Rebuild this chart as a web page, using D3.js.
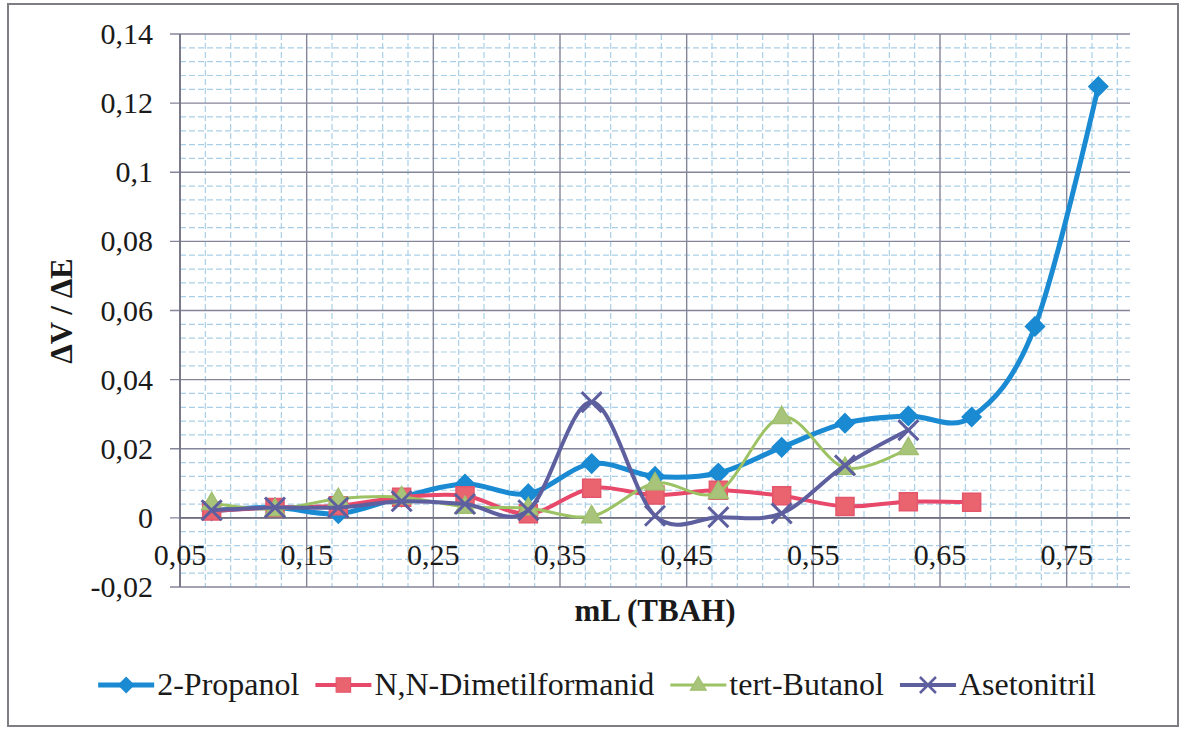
<!DOCTYPE html>
<html>
<head>
<meta charset="utf-8">
<script src="https://cdn.jsdelivr.net/npm/d3@7"></script>
</head>
<body style="margin:0">
<svg id="chart" width="1182" height="729"></svg>
<script>
// Titration volumes (mL TBAH) at which dV/dE was evaluated
const volumes = [0.075, 0.125, 0.175, 0.225, 0.275, 0.325, 0.375, 0.425, 0.475, 0.525, 0.575, 0.625, 0.675, 0.725, 0.775];

// dV/dE per solvent
const propanol    = [0.0020, 0.0030, 0.0012, 0.0060, 0.0098, 0.0070, 0.0157, 0.0120, 0.0130, 0.0204, 0.0274, 0.0295, 0.0292, 0.0554, 0.1248];
const dimetilform = [0.0020, 0.0030, 0.0035, 0.0060, 0.0064, 0.0012, 0.0086, 0.0066, 0.0080, 0.0064, 0.0033, 0.0047, 0.0045];
const butanol     = [0.0043, 0.0025, 0.0055, 0.0060, 0.0032, 0.0028, 0.0005, 0.0100, 0.0075, 0.0292, 0.0145, 0.0202];
const asetonitril = [0.0022, 0.0030, 0.0030, 0.0048, 0.0040, 0.0022, 0.0335, 0.0006, 0.0002, 0.0013, 0.0152, 0.0254];

const seriesNames = ["2-Propanol", "N,N-Dimetilformanid", "tert-Butanol", "Asetonitril"];

// Axis tick values and their printed labels (decimal comma)
const xTickValues = [0.05, 0.15, 0.25, 0.35, 0.45, 0.55, 0.65, 0.75];
const xTickLabels = ["0,05", "0,15", "0,25", "0,35", "0,45", "0,55", "0,65", "0,75"];
const yTickValues = [-0.02, 0, 0.02, 0.04, 0.06, 0.08, 0.1, 0.12, 0.14];
const yTickLabels = ["-0,02", "0", "0,02", "0,04", "0,06", "0,08", "0,1", "0,12", "0,14"];

const xTitle = "mL (TBAH)";
const yTitle = "\u0394V / \u0394E";

const INK = "#1a1a1a";

const svg = d3.select("#chart").style("display", "block");

// text helper: every label uses a Times-style serif face
function label(parent) {
  return parent.append("text")
    .style("font-family", '"Times"')
    .attr("fill", INK);
}

// outer chart frame
svg.append("rect")
  .attr("x", 8).attr("y", 4).attr("width", 1170).attr("height", 722)
  .attr("fill", "#ffffff").attr("stroke", "#7d7d84").attr("stroke-width", 2);

const plot = { left: 180, right: 1130, top: 34, bottom: 587 };

const x = d3.scaleLinear().domain([0.05, 0.80]).range([plot.left, plot.right]);
const y = d3.scaleLinear().domain([-0.02, 0.14]).range([plot.bottom, plot.top]);

// minor grid: 5 subdivisions per major interval
const xMinor = d3.range(0, 38).map(i => 0.05 + i * 0.02).filter(v => v <= 0.80 + 1e-9);
const yMinor = d3.range(0, 41).map(i => -0.02 + i * 0.004);

const grid = svg.append("g");
grid.selectAll(".vminor").data(xMinor.filter((v, i) => i % 5 !== 0)).join("line")
  .attr("x1", d => x(d)).attr("x2", d => x(d))
  .attr("y1", plot.top).attr("y2", plot.bottom)
  .attr("stroke", "#a9cfe8").attr("stroke-width", 1.2).attr("stroke-dasharray", "6,3");
grid.selectAll(".hminor").data(yMinor.filter((v, i) => i % 5 !== 0)).join("line")
  .attr("x1", plot.left).attr("x2", plot.right)
  .attr("y1", d => y(d)).attr("y2", d => y(d))
  .attr("stroke", "#a9cfe8").attr("stroke-width", 1.2).attr("stroke-dasharray", "6,3");

// major grid
grid.selectAll(".vmajor").data(xTickValues).join("line")
  .attr("x1", d => x(d)).attr("x2", d => x(d))
  .attr("y1", plot.top).attr("y2", plot.bottom)
  .attr("stroke", "#85859a").attr("stroke-width", 1.4);
grid.selectAll(".hmajor").data(yTickValues).join("line")
  .attr("x1", plot.left - 10).attr("x2", plot.right)
  .attr("y1", d => y(d)).attr("y2", d => y(d))
  .attr("stroke", "#85859a").attr("stroke-width", 1.4);

// axis lines
svg.append("line").attr("x1", plot.left).attr("x2", plot.left)
  .attr("y1", plot.top).attr("y2", plot.bottom)
  .attr("stroke", "#6f6f80").attr("stroke-width", 1.6);
svg.append("line").attr("x1", plot.left).attr("x2", plot.right)
  .attr("y1", y(0)).attr("y2", y(0))
  .attr("stroke", "#6f6f80").attr("stroke-width", 1.6);

// y tick labels
const yLabels = svg.append("g");
yTickValues.forEach((v, i) => {
  label(yLabels).attr("x", 153).attr("y", y(v) + 10)
    .attr("text-anchor", "end").attr("font-size", 30)
    .text(yTickLabels[i]);
});

// x tick labels, placed just below the zero line
const xLabels = svg.append("g");
xTickValues.forEach((v, i) => {
  label(xLabels).attr("x", x(v)).attr("y", 565)
    .attr("text-anchor", "middle").attr("font-size", 30)
    .text(xTickLabels[i]);
});

// axis titles
label(svg).attr("x", 655).attr("y", 621)
  .attr("text-anchor", "middle").attr("font-size", 31).attr("font-weight", "bold")
  .text(xTitle);
label(svg).attr("transform", "translate(72,311) rotate(-90)")
  .attr("text-anchor", "middle").attr("font-size", 31).attr("font-weight", "bold")
  .text(yTitle);

// marker shapes
function markerPath(kind, r) {
  if (kind === "diamond") return `M0,${-r}L${r},0L0,${r}L${-r},0Z`;
  if (kind === "square") return `M${-r},${-r}H${r}V${r}H${-r}Z`;
  if (kind === "triangle") { const h = r * 1.9; return `M0,${-h * 0.62}L${r * 1.1},${h * 0.38}L${-r * 1.1},${h * 0.38}Z`; }
  return `M${-r},${-r}L${r},${r}M${r},${-r}L${-r},${r}`;
}

const series = [
  { name: seriesNames[0], values: propanol,    line: "#1a8ad2", fill: "#1a8ad2", stroke: "#1a8ad2", width: 5, marker: "diamond",  r: 9.5 },
  { name: seriesNames[1], values: dimetilform, line: "#e8486a", fill: "#ea6470", stroke: "#e4566a", width: 4, marker: "square",   r: 9 },
  { name: seriesNames[2], values: butanol,     line: "#9cc264", fill: "#a8c47a", stroke: "#a0c070", width: 3, marker: "triangle", r: 9 },
  { name: seriesNames[3], values: asetonitril, line: "#5d5f9e", fill: "none",    stroke: "#5d5f9e", width: 4, marker: "cross",    r: 10 }
];

const lineGen = d3.line()
  .x(d => x(d[0])).y(d => y(d[1]))
  .curve(d3.curveCatmullRom.alpha(0));

series.forEach(s => {
  const pts = s.values.map((v, i) => [volumes[i], v]);
  const g = svg.append("g");
  g.append("path").datum(pts)
    .attr("d", lineGen)
    .attr("fill", "none").attr("stroke", s.line).attr("stroke-width", s.width)
    .attr("stroke-linejoin", "round").attr("stroke-linecap", "round");
  g.selectAll("path.m").data(pts).join("path")
    .attr("class", "m")
    .attr("transform", d => `translate(${x(d[0])},${y(d[1])})`)
    .attr("d", markerPath(s.marker, s.r))
    .attr("fill", s.fill).attr("stroke", s.stroke)
    .attr("stroke-width", s.marker === "cross" ? 3 : 1.5);
});

// legend, centred under the plot
const legend = svg.append("g");
const legendY = 685;
const items = series.map(s => {
  const g = legend.append("g");
  g.append("line").attr("x1", 0).attr("x2", 56).attr("y1", 0).attr("y2", 0)
    .attr("stroke", s.line).attr("stroke-width", s.width);
  g.append("path").attr("transform", "translate(28,0)")
    .attr("d", markerPath(s.marker, s.r * 0.8))
    .attr("fill", s.fill).attr("stroke", s.stroke)
    .attr("stroke-width", s.marker === "cross" ? 2.5 : 1.2);
  const t = label(g).attr("x", 59).attr("y", 10)
    .attr("font-size", 32).text(s.name);
  return { g, w: 59 + t.node().getComputedTextLength() };
});
const gap = 16;
const total = d3.sum(items, d => d.w) + gap * (items.length - 1);
let cx = 597 - total / 2;
items.forEach(it => {
  it.g.attr("transform", `translate(${cx},${legendY})`);
  cx += it.w + gap;
});
</script>
</body>
</html>
